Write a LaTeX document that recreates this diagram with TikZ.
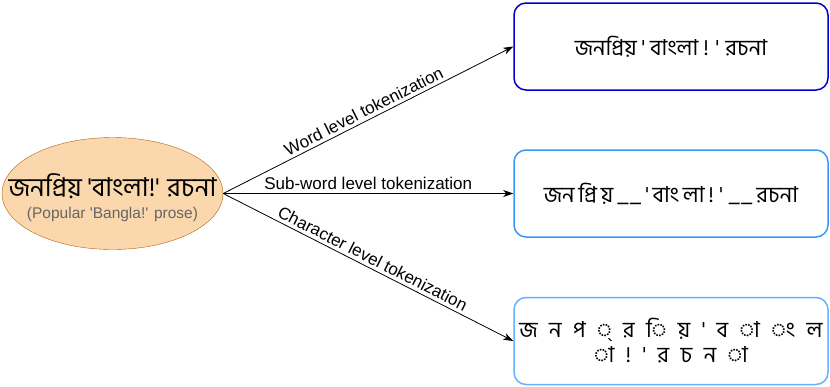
\documentclass[tikz,border=0pt]{standalone}
\usepackage{fontspec}
\setmainfont{Liberation Sans}[Ligatures=TeXOff]
\newfontfamily\bnfont[Script=Bengali,Ligatures=TeXOff]{Hind Siliguri}
\usetikzlibrary{shapes.geometric,arrows.meta}
\definecolor{peach}{HTML}{FAD7AC}
\definecolor{rust}{HTML}{B46504}
\definecolor{deepblue}{HTML}{0000CC}
\definecolor{midblue}{HTML}{3399FF}
\definecolor{paleblue}{HTML}{66B2FF}
\definecolor{subgray}{HTML}{666666}
\newcommand{\gp}{\hspace{0.52em}}
\tikzset{
    source/.style = {ellipse, draw=rust, fill=peach, minimum width=221pt, minimum height=112pt, inner xsep=-40pt, inner ysep=0pt, align=center, font=\fontsize{15.5}{22}\selectfont},
    tokbox/.style = {rectangle, rounded corners=12pt, line width=1.5pt, minimum width=314pt, minimum height=87pt, align=center, fill=white, font=\bnfont\fontsize{22}{25}\selectfont},
    arrow/.style = {thick,-{Stealth[length=10pt,width=7pt,inset=3pt]}},
    edgelabel/.style = {midway, sloped, above, font=\fontsize{17}{19}\selectfont}
}
\begin{document}
\begin{tikzpicture}[x=1pt,y=-1pt]
\useasboundingbox (0,0) rectangle (830,386);
\node (src) [source] at (112.5,193.5) {{\bnfont\fontsize{26}{28}\selectfont\rule{0pt}{32pt}জনপ্রিয় 'বাংলা!' রচনা}\\{\color{subgray}(Popular 'Bangla!' prose)}};
\node (word) [tokbox, draw=deepblue] at (671,46.5) {জনপ্রিয় ' বাংলা ! ' রচনা};
\node (subword) [tokbox, draw=midblue] at (671,193.5) {\spaceskip=0.17em জন প্রি য় \_\_ ' বাং লা ! ' \_\_ রচনা};
\node (char) [tokbox, draw=paleblue] at (671,341) {জ\gp ন\gp প\gp ◌্\gp র\gp ◌ি\gp য়\gp '\gp ব\gp ◌া\gp ◌ং\gp ল\\◌া\gp !\gp '\gp র\gp চ\gp ন\gp ◌া};

\draw [arrow] (src.east) -- node [edgelabel] {Word level tokenization} (word.west);
\draw [arrow] (src.east) -- node [edgelabel] {Sub-word level tokenization} (subword.west);
\draw [arrow] (src.east) -- node [edgelabel] {Character level tokenization} (char.west);
\end{tikzpicture}
\end{document}
